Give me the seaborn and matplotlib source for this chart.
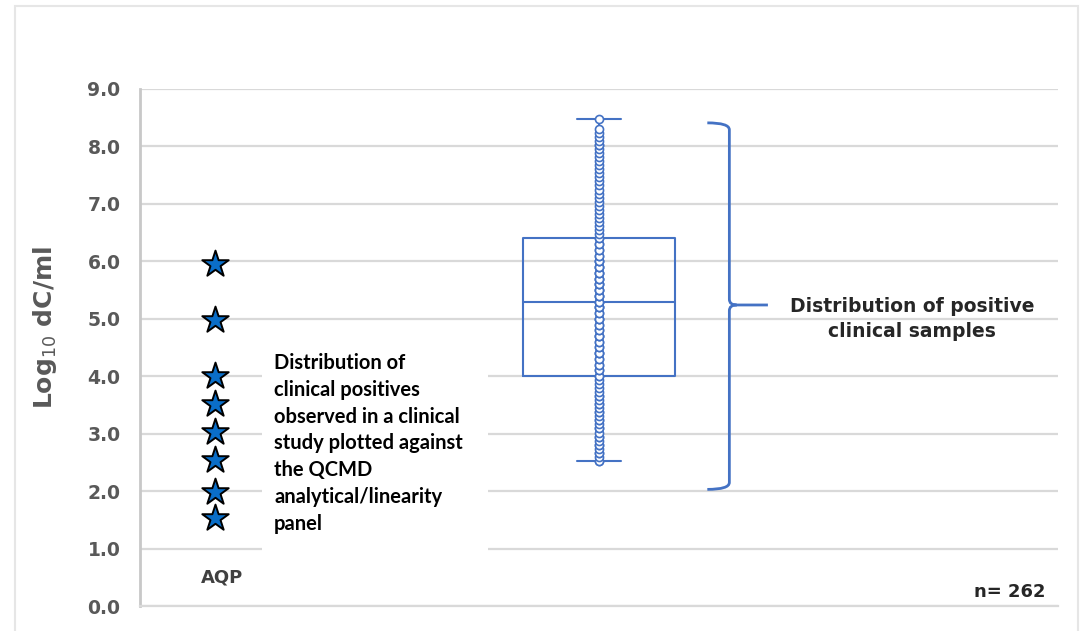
import numpy as np
import seaborn as sns
import matplotlib.pyplot as plt
from matplotlib.patches import Rectangle, PathPatch
from matplotlib.path import Path

# AQP analytical/linearity panel members (log10 dC/ml)
aqp_levels = [5.95, 4.97, 4.00, 3.52, 3.03, 2.55, 1.98, 1.53]

# clinical positives: distinct levels seen in the dot column and how many samples sit on each
clin_levels = [2.53, 2.60, 2.67, 2.74, 2.81, 2.88, 2.95, 3.02, 3.09, 3.16, 3.23,
               3.30, 3.37, 3.44, 3.51, 3.58, 3.65, 3.72, 3.79, 3.86, 3.93,
               4.00, 4.10, 4.20, 4.30, 4.40, 4.50, 4.60, 4.70, 4.80, 4.90, 5.00, 5.10, 5.20,
               5.30, 5.40, 5.50, 5.60, 5.70, 5.80, 5.90, 6.00, 6.10, 6.20, 6.30,
               6.41, 6.48, 6.55, 6.62, 6.69, 6.76, 6.83, 6.90, 6.97, 7.04, 7.11, 7.18,
               7.25, 7.32, 7.39, 7.46, 7.53, 7.60, 7.67, 7.74, 7.81, 7.88, 7.95, 8.02,
               8.09, 8.16, 8.23, 8.30, 8.47]
clin_counts = [2, 1, 2, 1, 2, 1, 2, 1, 2, 1, 2,
               1, 2, 1, 2, 1, 2, 1, 1, 1, 1,
               2, 2, 2, 2, 3, 2, 2, 3, 2, 2, 3, 2, 3,
               3, 3, 3, 3, 3, 3, 3, 3, 2, 2, 2,
               2, 1, 1, 1, 1, 1, 1, 1, 1, 1, 1, 1,
               1, 1, 1, 1, 1, 1, 1, 1, 1, 1, 1, 2,
               1, 1, 1, 1, 1]
n_label = "n= 262"

text_left = ("Distribution of\nclinical positives\nobserved in a clinical\n"
             "study plotted against\nthe QCMD\nanalytical/linearity\npanel")
text_right = "Distribution of positive\nclinical samples"

blue = "#4472C4"
star_blue = "#0A6EC8"
grid_grey = "#D9D9D9"

clin_values = np.repeat(clin_levels, clin_counts)
box_x = 5.0
aqp_x = 0.82

sns.set_theme(style="white")
plt.rcParams["font.family"] = ["DejaVu Sans"]

fig = plt.figure(figsize=(10.83, 6.31), dpi=100)
ax = fig.add_axes([0.1293, 0.0396, 0.8476, 0.8194])

sns.boxplot(x=[box_x] * len(clin_values), y=clin_values, native_scale=True,
            width=1.66, fill=False, color=blue, linecolor=blue, linewidth=1.5,
            whis=(0, 100), showfliers=False, capwidths=0.49, ax=ax, zorder=3)
sns.stripplot(x=[box_x] * len(clin_values), y=clin_values, native_scale=True,
              jitter=False, size=5.8, color="white", edgecolor=blue,
              linewidth=1.2, ax=ax, zorder=4)
sns.scatterplot(x=[aqp_x] * len(aqp_levels), y=aqp_levels, marker="*", s=400,
                color=star_blue, edgecolor="black", linewidth=1.4, ax=ax, zorder=5)

# white panel behind the explanatory text
ax.add_patch(Rectangle((1.33, 0.85), 2.46, 3.45, facecolor="white",
                       edgecolor="none", zorder=1))
ax.text(1.46, 4.40, text_left, ha="left", va="top", fontsize=14.5,
        family="Lato", fontweight="bold", color="black", linespacing=1.42, zorder=6)

# curly bracket next to the box
xv, xe, xt = 6.42, 6.18, 6.84
yt, yb, ym = 8.41, 2.03, 5.24
verts = [(xe, yt), (xv, yt), (xv, yt - 0.12), (xv, ym + 0.1), (xv, ym), (xv + 0.08, ym),
         (xt, ym), (xv + 0.08, ym), (xv, ym), (xv, ym - 0.1), (xv, yb + 0.12),
         (xv, yb), (xe, yb)]
codes = [Path.MOVETO, Path.CURVE3, Path.CURVE3, Path.LINETO, Path.CURVE3, Path.CURVE3,
         Path.LINETO, Path.MOVETO, Path.CURVE3, Path.CURVE3, Path.LINETO,
         Path.CURVE3, Path.CURVE3]
ax.add_patch(PathPatch(Path(verts, codes), facecolor="none", edgecolor=blue,
                       linewidth=2, zorder=3))
ax.text(8.41, 4.99, text_right, ha="center", va="center", fontsize=13.5,
        fontweight="bold", color="#262626", linespacing=1.4)

ax.text(0.89, 0.5, "AQP", ha="center", va="center", fontsize=13,
        fontweight="bold", color="#404040")
ax.text(9.86, 0.24, n_label, ha="right", va="center", fontsize=13,
        fontweight="bold", color="#262626")

ax.set_xlim(0, 10)
ax.set_ylim(0, 9)
ax.set_xticks([])
ax.set_yticks(range(10))
ax.set_yticklabels([f"{v:.1f}" for v in range(10)], fontsize=13.5,
                   fontweight="bold", color="#595959")
ax.tick_params(axis="y", length=0, pad=14)
ax.set_xlabel("")
ax.set_ylabel(r"Log$_{10}$ dC/ml", fontsize=18, fontweight="bold",
              color="#595959")
ax.yaxis.set_label_coords(-0.088, 0.538)
ax.yaxis.grid(True, color=grid_grey, linewidth=1.6)
ax.set_axisbelow(True)
for side in ["top", "right"]:
    ax.spines[side].set_visible(False)
ax.spines["left"].set_color("#C8C8C8")
ax.spines["left"].set_linewidth(2)
ax.spines["bottom"].set_color(grid_grey)
ax.spines["bottom"].set_linewidth(1.6)

# light outer frame of the figure
fig.add_artist(Rectangle((15 / 1083, -0.1), 1063 / 1083, 1.0905, fill=False,
                         edgecolor="#E6E6E6", linewidth=1.5,
                         transform=fig.transFigure, clip_on=False))

fig.savefig("out.png", dpi=100, facecolor="white")
